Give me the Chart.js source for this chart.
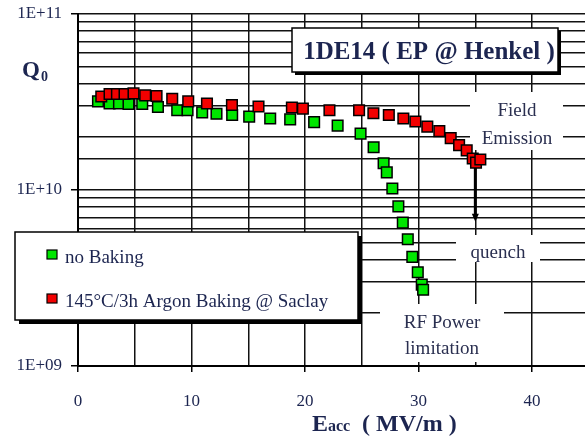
<!DOCTYPE html>
<html>
<head>
<meta charset="utf-8">
<script src="https://cdn.jsdelivr.net/npm/chart.js@4/dist/chart.umd.min.js"></script>
<style>
  html, body { margin: 0; padding: 0; background: #fff; }
  canvas { display: block; }
</style>
</head>
<body>
<canvas id="c" width="585" height="438"></canvas>
<script>
// Q0 versus accelerating gradient, cavity 1DE14
const seriesNames = ['no Baking', '145°C/3h Argon Baking @ Saclay'];

const eaccNoBaking = [1.76, 2.78, 3.61, 4.45, 5.66, 7.04, 8.74, 9.65, 10.94, 12.20, 13.58, 15.08, 16.93, 18.69,
  20.80, 22.87, 24.89, 26.04, 26.92, 27.20, 27.69, 28.22, 28.61, 29.05, 29.45, 29.93, 30.28, 30.40];
const q0NoBaking = [3.19e10, 3.10e10, 3.10e10, 3.08e10, 3.08e10, 2.96e10, 2.84e10, 2.84e10, 2.76e10, 2.71e10,
  2.67e10, 2.61e10, 2.55e10, 2.52e10, 2.43e10, 2.32e10, 2.09e10, 1.75e10, 1.42e10, 1.26e10, 1.02e10,
  8.07e9, 6.53e9, 5.25e9, 4.17e9, 3.41e9, 2.90e9, 2.71e9];

const eaccBaked = [2.05, 2.78, 3.43, 4.10, 4.89, 5.92, 6.92, 8.30, 9.71, 11.36, 13.56, 15.90, 18.84, 19.81,
  22.15, 24.76, 26.02, 27.38, 28.66, 29.72, 30.77, 31.83, 32.83, 33.57, 34.24, 34.77, 35.06, 35.44];
const q0Baked = [3.40e10, 3.51e10, 3.51e10, 3.51e10, 3.54e10, 3.45e10, 3.42e10, 3.30e10, 3.19e10, 3.10e10,
  3.04e10, 2.98e10, 2.94e10, 2.90e10, 2.84e10, 2.84e10, 2.73e10, 2.67e10, 2.55e10, 2.45e10, 2.29e10,
  2.16e10, 1.97e10, 1.80e10, 1.68e10, 1.51e10, 1.43e10, 1.49e10];

const xTickLabels = ['0', '10', '20', '30', '40'];
const yTickLabels = ['1E+09', '1E+10', '1E+11'];
const quenchArrow = { eacc: 35, q0From: 1.40e10, q0To: 6.6e9 };

const SERIF = '"Liberation Serif", "DejaVu Serif", serif';
const INK = '#1c2550';

function toPoints(xs, ys) { return xs.map((x, i) => ({ x: x, y: ys[i] })); }
function isDecade(v) { const l = Math.log10(v); return Math.abs(l - Math.round(l)) < 1e-6; }

function shadowBox(ctx, x, y, w, h, s) {
  ctx.fillStyle = '#000';
  ctx.fillRect(x + s, y + s, w, h);
  ctx.fillStyle = '#fff';
  ctx.fillRect(x, y, w, h);
  ctx.lineWidth = 1.5;
  ctx.strokeStyle = '#000';
  ctx.strokeRect(x, y, w, h);
}

const decorations = {
  id: 'decorations',
  beforeDatasetsDraw(chart) {
    const ctx = chart.ctx;
    const xs = chart.scales.x, ys = chart.scales.y;
    ctx.save();

    // white patches behind the annotation labels
    ctx.fillStyle = '#fff';
    ctx.fillRect(470, 92, 93, 58);
    ctx.fillRect(456, 235, 84, 27);
    ctx.fillRect(380, 304, 124, 58);

    ctx.fillStyle = '#2a2f50';
    ctx.font = '19px ' + SERIF;
    ctx.textAlign = 'center';
    ctx.textBaseline = 'alphabetic';
    ctx.fillText('Field', 517, 116);
    ctx.fillText('Emission', 517, 144);
    ctx.fillText('quench', 498, 258);
    ctx.fillText('RF Power', 442, 328);
    ctx.fillText('limitation', 442, 354);

    // quench arrow
    const ax = xs.getPixelForValue(quenchArrow.eacc);
    const ay0 = ys.getPixelForValue(quenchArrow.q0From);
    const ay1 = ys.getPixelForValue(quenchArrow.q0To);
    ctx.strokeStyle = '#000';
    ctx.lineWidth = 3;
    ctx.beginPath();
    ctx.moveTo(ax, ay0);
    ctx.lineTo(ax, ay1 - 6);
    ctx.stroke();
    ctx.fillStyle = '#000';
    ctx.beginPath();
    ctx.moveTo(ax - 3.5, ay1 - 8);
    ctx.lineTo(ax + 3.5, ay1 - 8);
    ctx.lineTo(ax, ay1);
    ctx.closePath();
    ctx.fill();

    // title box
    shadowBox(ctx, 292, 28, 266, 44, 3);
    ctx.fillStyle = INK;
    ctx.font = 'bold 25px ' + SERIF;
    ctx.textAlign = 'center';
    ctx.fillText('1DE14 ( EP @ Henkel )', 429, 59);

    // legend box, built from the datasets
    shadowBox(ctx, 15, 232, 343, 88, 4);
    const rows = [254.5, 298.5];
    chart.data.datasets.forEach((ds, i) => {
      const cy = rows[i];
      ctx.fillStyle = ds.backgroundColor;
      ctx.fillRect(47, cy - 4.5, 10, 9);
      ctx.lineWidth = 1.2;
      ctx.strokeStyle = '#000';
      ctx.strokeRect(47, cy - 4.5, 10, 9);
      ctx.fillStyle = INK;
      ctx.font = '19px ' + SERIF;
      ctx.textAlign = 'left';
      ctx.fillText(ds.label, 65, cy + 8);
    });
    ctx.restore();
  },
  afterDraw(chart) {
    const ctx = chart.ctx;
    ctx.save();
    ctx.fillStyle = INK;
    ctx.textAlign = 'left';
    ctx.textBaseline = 'alphabetic';
    // y axis title: Q0
    ctx.font = 'bold 23px ' + SERIF;
    ctx.fillText('Q', 22, 77);
    ctx.font = 'bold 14px ' + SERIF;
    ctx.fillText('0', 41, 81);
    // x axis title: Eacc ( MV/m )
    ctx.font = 'bold 24px ' + SERIF;
    ctx.fillText('E', 312, 431);
    ctx.font = 'bold 16px ' + SERIF;
    ctx.fillText('acc', 328, 431);
    ctx.font = 'bold 24px ' + SERIF;
    ctx.fillText('( MV/m )', 362, 431);
    ctx.restore();
  }
};

new Chart(document.getElementById('c'), {
  type: 'scatter',
  data: {
    datasets: [
      {
        label: seriesNames[0],
        data: toPoints(eaccNoBaking, q0NoBaking),
        backgroundColor: '#00e600',
        borderColor: '#000',
        borderWidth: 1.5,
        pointStyle: 'rect',
        pointRadius: 7.5,
        order: 2
      },
      {
        label: seriesNames[1],
        data: toPoints(eaccBaked, q0Baked),
        backgroundColor: '#f20000',
        borderColor: '#000',
        borderWidth: 1.5,
        pointStyle: 'rect',
        pointRadius: 7.5,
        order: 1
      }
    ]
  },
  options: {
    responsive: false,
    animation: false,
    devicePixelRatio: 1,
    layout: { autoPadding: false, padding: { top: 14, left: 0, right: 0, bottom: 0 } },
    plugins: { legend: { display: false }, tooltip: { enabled: false } },
    scales: {
      x: {
        type: 'linear',
        min: 0,
        max: 44.66,
        afterFit(scale) {
          scale.height = 72;
          scale.paddingLeft = 0;
          scale.paddingRight = 0;
        },
        border: { display: true, color: '#000', width: 2 },
        grid: {
          color: '#111',
          lineWidth: 1.5,
          drawTicks: true,
          tickLength: 6,
          tickColor: (c) => (c.tick && c.tick.value % 10 === 0) ? '#000' : 'rgba(0,0,0,0)'
        },
        ticks: {
          stepSize: 5,
          includeBounds: false,
          autoSkip: false,
          maxRotation: 0,
          padding: 19,
          color: INK,
          font: { family: SERIF, size: 17 },
          callback: (v) => {
            const k = xTickLabels.indexOf(String(v));
            return k >= 0 ? xTickLabels[k] : '';
          }
        }
      },
      y: {
        type: 'logarithmic',
        min: 1e9,
        max: 1e11,
        afterFit(scale) {
          scale.width = 78;
          scale.paddingTop = 0;
          scale.paddingBottom = 0;
        },
        border: { display: true, color: '#000', width: 2 },
        grid: {
          color: '#111',
          lineWidth: 1.5,
          drawTicks: true,
          tickLength: 7,
          tickColor: (c) => (c.tick && isDecade(c.tick.value)) ? '#000' : 'rgba(0,0,0,0)'
        },
        ticks: {
          autoSkip: false,
          padding: 9,
          color: INK,
          font: { family: SERIF, size: 17 },
          callback: (v) => {
            if (!isDecade(v)) return '';
            const k = Math.round(Math.log10(v)) - 9;
            return yTickLabels[k] || '';
          }
        }
      }
    }
  },
  plugins: [decorations]
});
</script>
</body>
</html>
